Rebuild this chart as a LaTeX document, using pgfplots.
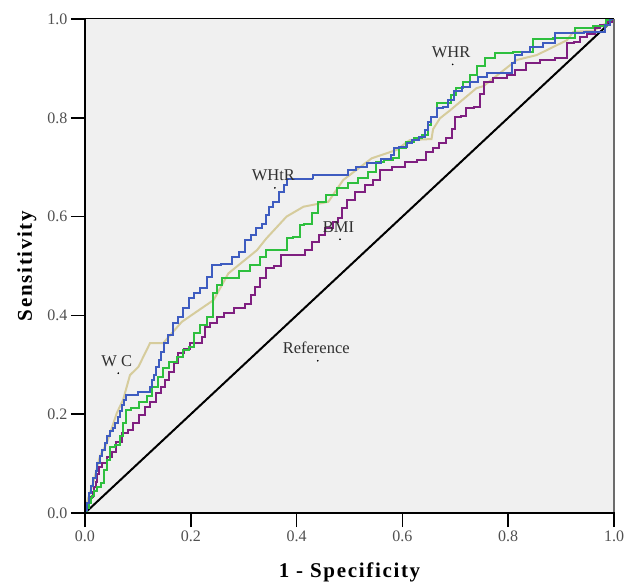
\documentclass[border=0pt]{standalone}
\usepackage{fontspec}
\setmainfont{Liberation Serif}
\usepackage{pgfplots}
\pgfplotsset{compat=1.18}
\definecolor{bgc}{HTML}{F0F0F0}
\definecolor{cWHtR}{HTML}{3E5CC0}
\definecolor{cWHR}{HTML}{2EBF3E}
\definecolor{cWC}{HTML}{D6CC9C}
\definecolor{cBMI}{HTML}{7F1F80}
\definecolor{ticktxt}{HTML}{505050}
\definecolor{labtxt}{HTML}{303030}
\newfontfamily\labfont[LetterSpace=8]{Liberation Serif}

\begin{document}
\begin{tikzpicture}[x=1pt,y=1pt]
\begin{axis}[
    at={(85pt,69pt)}, anchor=south west,
    width=529pt, height=494pt, scale only axis,
    xmin=0, xmax=1, ymin=0, ymax=1,
    axis line style={draw=none},
    axis background/.style={fill=bgc},
    tick pos=left, tick align=outside, major tick length=14pt,
    tick style={black, line width=1.6pt},
    xtick={0,0.2,0.4,0.6,0.8,1}, ytick={0,0.2,0.4,0.6,0.8,1},
    /pgf/number format/fixed, /pgf/number format/fixed zerofill,
    /pgf/number format/precision=1,
    /pgf/number format/assume math mode=true,
    ticklabel style={font=\fontsize{16}{18}\selectfont, text=ticktxt},
    xlabel={1 - Specificity}, ylabel={Sensitivity},
    xlabel style={at={(axis description cs:0.5,-0.1296)}, anchor=base,
        font=\labfont\bfseries\fontsize{21}{24}\selectfont},
    ylabel style={at={(axis description cs:-0.11,0.5)}, anchor=center,
        font=\labfont\bfseries\fontsize{21}{24}\selectfont},
]
% reference diagonal
\addplot[black, line width=2pt] coordinates {(0,0) (1,1)};
% WC
\addplot[cWC, line width=2pt] coordinates {
(0,0) (0.006,0.030) (0.016,0.063) (0.028,0.114) (0.041,0.141) (0.060,0.202)
(0.072,0.229) (0.085,0.279) (0.101,0.296) (0.123,0.344) (0.148,0.344)
(0.161,0.360) (0.183,0.387) (0.243,0.431) (0.271,0.485) (0.325,0.532)
(0.343,0.556) (0.381,0.600) (0.413,0.620) (0.460,0.630) (0.488,0.674)
(0.542,0.718) (0.589,0.735) (0.614,0.755) (0.655,0.757) (0.658,0.777)
(0.671,0.799) (0.690,0.815) (0.740,0.860) (0.753,0.864) (0.816,0.917)
(0.854,0.927) (0.911,0.957) (0.923,0.974) (0.961,0.976) (0.980,0.988) (1,1)};
% BMI
\addplot[cBMI, line width=2pt, const plot mark mid] coordinates {
(0,0) (0.003,0.003) (0.006,0.012) (0.010,0.022) (0.013,0.033) (0.016,0.043)
(0.019,0.053) (0.022,0.063) (0.025,0.078) (0.028,0.094) (0.038,0.101)
(0.047,0.114) (0.054,0.124) (0.063,0.144) (0.076,0.161) (0.088,0.168)
(0.095,0.182) (0.110,0.198) (0.117,0.215) (0.129,0.225) (0.139,0.242)
(0.148,0.256) (0.154,0.269) (0.164,0.286) (0.173,0.303) (0.180,0.323)
(0.195,0.333) (0.202,0.344) (0.220,0.344) (0.224,0.357) (0.230,0.377)
(0.243,0.384) (0.255,0.397) (0.271,0.404) (0.293,0.414) (0.312,0.424)
(0.316,0.441) (0.325,0.458) (0.337,0.475) (0.347,0.495) (0.369,0.499)
(0.372,0.522) (0.413,0.522) (0.419,0.532) (0.438,0.549) (0.447,0.563)
(0.460,0.576) (0.476,0.590) (0.482,0.597) (0.488,0.617) (0.501,0.634)
(0.520,0.650) (0.539,0.664) (0.551,0.674) (0.564,0.694) (0.595,0.701)
(0.614,0.711) (0.640,0.715) (0.649,0.730) (0.665,0.738) (0.674,0.748)
(0.690,0.760) (0.696,0.778) (0.703,0.802) (0.718,0.804) (0.724,0.819)
(0.745,0.821) (0.750,0.849) (0.759,0.873) (0.784,0.880) (0.810,0.887)
(0.816,0.897) (0.851,0.910) (0.870,0.917) (0.907,0.921) (0.917,0.951)
(0.932,0.954) (0.938,0.964) (0.961,0.970) (0.967,0.981) (0.980,0.988)
(0.992,0.994) (1,1)};
% WHR
\addplot[cWHR, line width=2pt, const plot mark mid] coordinates {
(0,0) (0.003,0.003) (0.006,0.010) (0.009,0.020) (0.012,0.030) (0.015,0.035)
(0.020,0.045) (0.025,0.053) (0.035,0.060) (0.038,0.087)
(0.044,0.107) (0.050,0.134) (0.063,0.138) (0.069,0.155) (0.076,0.182)
(0.079,0.208) (0.095,0.212) (0.110,0.225) (0.123,0.236) (0.132,0.256)
(0.145,0.276) (0.151,0.293) (0.167,0.306) (0.180,0.316) (0.190,0.330)
(0.202,0.337) (0.211,0.364) (0.224,0.381) (0.239,0.397) (0.246,0.445)
(0.252,0.462) (0.265,0.475) (0.284,0.476) (0.299,0.489) (0.325,0.502)
(0.337,0.519) (0.347,0.532) (0.378,0.532) (0.384,0.556) (0.403,0.559)
(0.410,0.583) (0.419,0.586) (0.438,0.608) (0.444,0.630) (0.466,0.644)
(0.488,0.657) (0.507,0.668) (0.526,0.678) (0.545,0.691) (0.554,0.711)
(0.577,0.715) (0.589,0.718) (0.598,0.738) (0.614,0.752) (0.630,0.759)
(0.643,0.765) (0.652,0.785) (0.658,0.802) (0.671,0.829) (0.687,0.829)
(0.696,0.846) (0.706,0.860) (0.722,0.873) (0.734,0.887) (0.747,0.905)
(0.766,0.921) (0.784,0.931) (0.835,0.933) (0.860,0.959) (0.911,0.961)
(0.942,0.981) (0.980,0.985) (0.989,0.997) (1,1)};
% WHtR
\addplot[cWHtR, line width=2pt, const plot mark mid] coordinates {
(0,0) (0.003,0.006) (0.006,0.020) (0.010,0.040) (0.014,0.055) (0.018,0.070)
(0.022,0.085) (0.025,0.101) (0.030,0.115) (0.035,0.128) (0.040,0.142)
(0.044,0.155) (0.050,0.165) (0.055,0.173) (0.060,0.182) (0.064,0.195)
(0.068,0.207) (0.072,0.219) (0.076,0.229) (0.079,0.239) (0.120,0.244)
(0.125,0.256) (0.129,0.269) (0.133,0.280) (0.137,0.295) (0.142,0.310)
(0.146,0.325) (0.151,0.344) (0.161,0.360) (0.170,0.384) (0.180,0.397)
(0.192,0.414) (0.202,0.435) (0.211,0.445) (0.224,0.455) (0.236,0.478)
(0.246,0.502) (0.268,0.505) (0.287,0.519) (0.296,0.529) (0.309,0.553)
(0.318,0.563) (0.328,0.576) (0.340,0.586) (0.345,0.603) (0.350,0.620)
(0.362,0.630) (0.372,0.650) (0.381,0.664) (0.384,0.677) (0.431,0.677)
(0.431,0.684) (0.495,0.684) (0.501,0.694) (0.523,0.701) (0.545,0.708)
(0.573,0.716) (0.583,0.725) (0.586,0.738) (0.602,0.741) (0.614,0.748)
(0.624,0.755) (0.640,0.762) (0.646,0.775) (0.652,0.792) (0.658,0.802)
(0.671,0.819) (0.684,0.822) (0.690,0.836) (0.705,0.855) (0.722,0.862)
(0.734,0.872) (0.753,0.883) (0.766,0.890) (0.803,0.890) (0.810,0.910)
(0.816,0.927) (0.838,0.933) (0.845,0.943) (0.860,0.943) (0.873,0.951)
(0.904,0.972) (0.983,0.974) (0.983,0.988) (1,1)};
% label anchor dots
\addplot[only marks, mark=*, mark size=0.6pt, black] coordinates {
(0.695,0.908) (0.359,0.658) (0.482,0.554) (0.063,0.283) (0.440,0.308)};
\begin{scope}[every node/.style={anchor=base, yshift=7pt, xshift=-1.5pt,
    text=labtxt, font=\fontsize{16.5}{18}\selectfont}]
\node at (axis cs:0.695,0.908) {WHR};
\node at (axis cs:0.359,0.658) {WHtR};
\node at (axis cs:0.482,0.554) {BMI};
\node at (axis cs:0.063,0.283) {W C};
\node at (axis cs:0.440,0.308) {Reference};
\end{scope}
\end{axis}
% axis frame
\draw[black, line width=1pt] (85,563) -- (614,563);
\draw[gray!85!black, line width=2.5pt] (614,69) -- (614,563);
\draw[black, line width=1.5pt] (85,563) -- (85,69) -- (614.5,69);
\pgfresetboundingbox
\useasboundingbox (0,0) rectangle (626,582);
\end{tikzpicture}
\end{document}
